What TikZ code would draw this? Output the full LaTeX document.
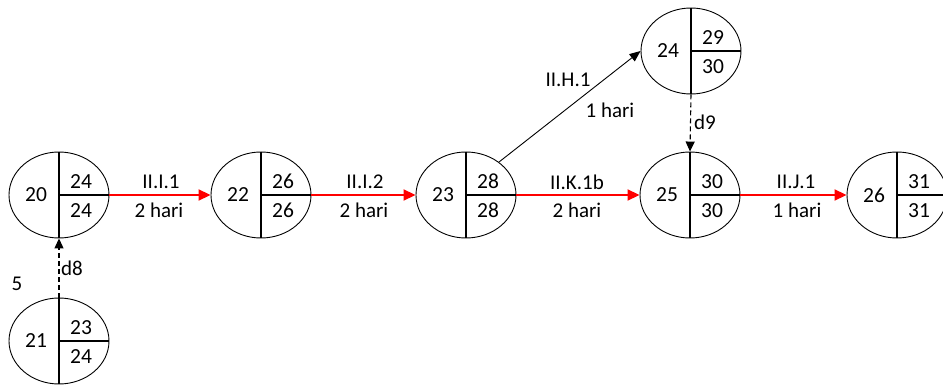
\documentclass[tikz,border=0pt]{standalone}
\usepackage{fontspec}
\setmainfont{Carlito}
\usetikzlibrary{arrows.meta,shapes.geometric}
\tikzset{
  ev/.style={ellipse, draw, line width=0.9pt, minimum width=100pt, minimum height=86pt, inner sep=0pt},
  divl/.style={line width=1.4pt},
  num/.style={font=\fontsize{21.5}{24}\selectfont, inner sep=0pt},
  lbl/.style={font=\fontsize{21}{24}\selectfont, inner sep=0pt},
  crit/.style={draw=red, line width=1.8pt, -{Triangle[length=12pt,width=11pt]}},
  act/.style={draw=black, line width=0.9pt, -{Triangle[length=11pt,width=9pt]}},
  dum/.style={draw=black, line width=1.1pt, dash pattern=on 5pt off 3pt, -{Triangle[length=10pt,width=9pt]}}
}
\newcommand{\evnode}[5]{%
  \node[ev] (#1) at (#2) {};
  \draw[divl] (#1.north) -- (#1.south);
  \draw[divl] (#1.center) -- (#1.east);
  \node[num] (#1l) at ([xshift=-23pt]#1.center) {#3};
  \node[num] (#1t) at ([xshift=22pt,yshift=13.5pt]#1.center) {#4};
  \node[num] (#1b) at ([xshift=22pt,yshift=-15.5pt]#1.center) {#5};
}
\begin{document}
\begin{tikzpicture}[x=1pt,y=-1pt]
\useasboundingbox (0,0) rectangle (943,385);
\evnode{n20}{59,195}{20}{24}{24}
\evnode{n21}{59,341}{21}{23}{24}
\evnode{n22}{261,195}{22}{26}{26}
\evnode{n23}{466,195}{23}{28}{28}
\evnode{n24}{691,51}{24}{29}{30}
\evnode{n25}{690,195}{25}{30}{30}
\evnode{n26}{897,195}{26}{31}{31}
% critical activities
\draw[crit] (n20.east) -- (n22.west);
\draw[crit] (n22.east) -- (n23.west);
\draw[crit] (n23.east) -- (n25.west);
\draw[crit] (n25.east) -- (n26.west);
% other activity
\draw[act] (n23.45) -- (n24.west);
% dummies
\draw[dum] (n21.north) -- (n20.south);
\draw[dum] (n24.south) -- (n25.north);
% labels
\node[lbl] (a1) at (161,182) {II.I.1};
\node[lbl] (a1d) at (159,210) {2 hari};
\node[lbl] (a2) at (365,182) {II.I.2};
\node[lbl] (a2d) at (364,210) {2 hari};
\node[lbl] (a3) at (577,182) {II.K.1b};
\node[lbl] (a3d) at (577,210) {2 hari};
\node[lbl] (a4) at (796,182) {II.J.1};
\node[lbl] (a4d) at (797,210) {1 hari};
\node[lbl] (a5) at (568,80) {II.H.1};
\node[lbl] (a5d) at (610,110) {1 hari};
\node[lbl] (d8) at (72,268) {d8};
\node[lbl] (d9) at (705,122) {d9};
\node[lbl] (five) at (17,284) {5};
\end{tikzpicture}
\end{document}
